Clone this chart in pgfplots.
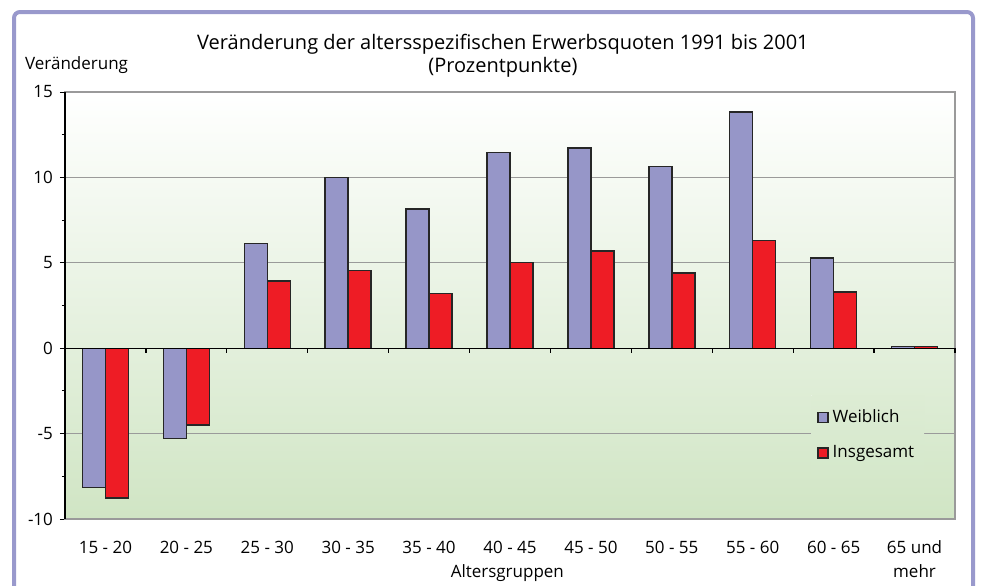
\documentclass[border=0pt]{standalone}
\usepackage{pgfplots}
\pgfplotsset{compat=1.18}
\usepackage{fontspec}
\setmainfont{Open Sans}
\definecolor{wcol}{HTML}{9696C8}
\definecolor{icol}{HTML}{EE1C25}
\definecolor{framecol}{HTML}{9999CC}
\definecolor{bgbot}{HTML}{D0E5C4}
\definecolor{legtop}{HTML}{DDECD4}
\definecolor{legbot}{HTML}{D5E8CB}
\definecolor{gridcol}{HTML}{9A9A9A}

\pgfplotstableread{
x W I
0 -8.15 -8.78
1 -5.29 -4.49
2 6.13 3.94
3 10.00 4.55
4 8.15 3.20
5 11.46 5.02
6 11.72 5.69
7 10.64 4.40
8 13.82 6.31
9 5.29 3.30
10 0.10 0.10
}\datatable

\begin{document}
\begin{tikzpicture}[font=\fontsize{8.5}{10.5}\selectfont]
\draw[framecol, line width=2pt, rounded corners=3pt] (-25.5pt,-80pt) rectangle (454pt,253.5pt);
\begin{axis}[
  at={(0,0)}, anchor=south west,
  scale only axis, width=445pt, height=213.5pt,
  clip=false,
  xmin=-0.5, xmax=10.5, ymin=-10, ymax=15,
  ybar=0pt, bar width=11.5pt,
  xtick={0,...,10},
  xticklabels={15 - 20,20 - 25,25 - 30,30 - 35,35 - 40,40 - 45,45 - 50,50 - 55,55 - 60,60 - 65,{65 und\\mehr}},
  x tick label style={align=center, anchor=north, yshift=-5pt, font=\fontsize{8.5}{12}\selectfont},
  major x tick style={draw=none},
  ytick={-10,-5,0,5,10,15}, minor y tick num=1,
  ytick pos=left,
  tick align=outside,
  major tick length=2.5pt, minor tick length=1.5pt,
  y tick style={black, line width=0.5pt},
  ymajorgrids, major grid style={gridcol, line width=0.6pt},
  axis line style={gridcol, line width=0.6pt},
  /pgf/number format/assume math mode=true,
  y tick label style={font=\fontsize{8.5}{10.5}\selectfont},
  axis background/.style={top color=white, bottom color=bgbot},
  title={Veränderung der altersspezifischen Erwerbsquoten 1991 bis 2001\\(Prozentpunkte)},
  title style={at={(0.492,1)}, anchor=south, align=center, yshift=-2pt, font=\fontsize{10}{11.5}\selectfont},
  xlabel={Altersgruppen},
  xlabel style={at={(axis description cs:0.497,0)}, anchor=north, yshift=-19.5pt},
  legend style={at={(0.902,0.197)}, anchor=center, draw=none, top color=legtop, bottom color=legbot,
    row sep=6pt, inner xsep=3pt, inner ysep=5pt, font=\fontsize{8.5}{10.5}\selectfont},
  legend cell align=left,
  legend image code/.code={\draw[#1] (0pt,-2.5pt) rectangle (5pt,2.5pt);},
]
\addplot[fill=wcol, draw=black!85, line width=0.7pt] table[x=x, y=W] {\datatable};
\addplot[fill=icol, draw=black!85, line width=0.7pt] table[x=x, y=I] {\datatable};
\legend{Weiblich, Insgesamt}
\draw[black, line width=0.6pt] (rel axis cs:0,0) -- (rel axis cs:0,1);
\draw[black, line width=0.7pt] (axis cs:-0.5,0) -- (axis cs:10.5,0);
\pgfplotsinvokeforeach{0.5,1.5,2.5,3.5,4.5,5.5,6.5,7.5,8.5,9.5,10.5}{
  \draw[black, line width=0.6pt] (axis cs:#1,0) -- ([yshift=-2.5pt]axis cs:#1,0);
}
\node[anchor=center] at (rel axis cs:0.013,1.063) {Veränderung};
\end{axis}
\pgfresetboundingbox
\path[use as bounding box] (-32.5pt,-33pt) rectangle (458.5pt,259.5pt);
\end{tikzpicture}
\end{document}
